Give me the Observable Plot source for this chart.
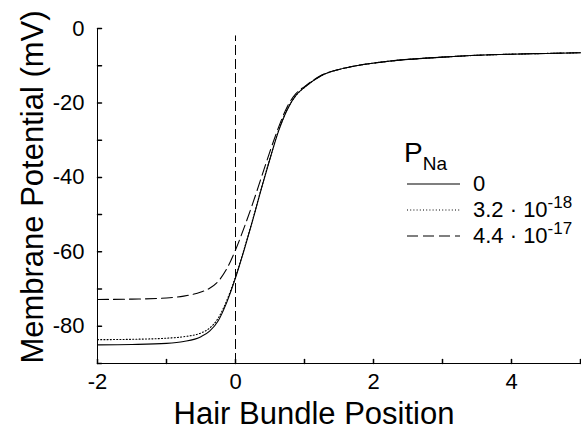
<!DOCTYPE html>
<html>
<head>
<meta charset="utf-8">
<script src="https://cdn.jsdelivr.net/npm/d3@7"></script>
<script src="https://cdn.jsdelivr.net/npm/@observablehq/plot@0.6"></script>
<style>
  html, body { margin: 0; padding: 0; background: #fff; }
  #wrap { position: relative; width: 581px; height: 431px; font-family: "Liberation Sans", Arial, sans-serif; }
  #legend { position: absolute; left: 390px; top: 136px; color: #000; font-size: 22px; }
  #legend .title { font-size: 28px; line-height: 34px; height: 34px; margin-bottom: 1px; margin-left: 14px; }
  #legend .title sub { font-size: 19px; vertical-align: -8px; line-height: 0; }
  #legend .row { display: flex; align-items: center; height: 26px; }
  #legend svg { width: 70px; height: 10px; flex-shrink: 0; }
  #legend sup { font-size: 17px; vertical-align: 9px; line-height: 0; }
</style>
</head>
<body>
<div id="wrap"></div>
<script>
// Hair bundle position (x) and membrane potential (mV) for three P_Na values
const positions = [-2,-1.5,-1,-0.75,-0.5,-0.375,-0.25,-0.125,0,0.125,0.25,0.375,0.5,0.625,0.75,0.875,1,1.25,1.5,1.75,2,2.5,3,3.5,4,4.5,5];
const vPNa0     = [-85.0,-84.9,-84.6,-84.1,-82.8,-81.3,-78.5,-73.5,-67.0,-59.5,-51.5,-43.0,-35.0,-27.5,-21.8,-18.0,-15.8,-12.6,-11.0,-10.0,-9.3,-8.3,-7.7,-7.2,-6.9,-6.7,-6.5];
const vPNa32e19 = [-83.6,-83.5,-83.2,-82.8,-81.8,-80.5,-77.8,-73.0,-66.7,-59.3,-51.3,-42.9,-34.9,-27.4,-21.7,-18.0,-15.8,-12.6,-11.0,-10.0,-9.3,-8.3,-7.7,-7.2,-6.9,-6.7,-6.5];
const vPNa44e18 = [-72.8,-72.7,-72.4,-71.9,-70.8,-69.8,-67.9,-64.5,-59.5,-53.5,-47.0,-40.0,-33.0,-26.5,-21.0,-17.5,-15.6,-12.5,-11.0,-10.0,-9.3,-8.3,-7.7,-7.2,-6.9,-6.7,-6.5];

const xTickLabels = [-2, 0, 2, 4];
const xTicksAll = [-2, -1, 0, 1, 2, 3, 4, 5];
const yTickLabels = [0, -20, -40, -60, -80];
const yTicksAll = [0, -10, -20, -30, -40, -50, -60, -70, -80, -90];
const xDomain = [-2, 5];
const yDomain = [-90, 0];
const refLine = {x: 0, yFrom: -90, yTo: -2};

const xTitle = "Hair Bundle Position";
const yTitle = "Membrane Potential (mV)";

const legendTitle = ["P", "Na"];
const legendItems = [
  {base: "0", exp: null, dash: null},
  {base: "3.2 · 10", exp: "-18", dash: "1,2.2"},
  {base: "4.4 · 10", exp: "-17", dash: "11,5"}
];

const series = [
  {name: "0", values: vPNa0, dash: null},
  {name: "3.2e-18", values: vPNa32e19, dash: "1,2.2"},
  {name: "4.4e-17", values: vPNa44e18, dash: "11,5"}
];

const tickShape = {draw(context, l) { context.moveTo(0, 0); context.lineTo(0, -l); }};

const lineMarks = series.map(s => Plot.line(positions.map((x, i) => ({x, y: s.values[i]})), {
  x: "x", y: "y", stroke: "#000", strokeWidth: 1.1, curve: "monotone-x",
  strokeDasharray: s.dash
}));

const chart = Plot.plot({
  width: 581,
  height: 431,
  marginLeft: 97,
  marginRight: 1,
  marginTop: 28,
  marginBottom: 68,
  style: {fontFamily: "'Liberation Sans', Arial, sans-serif", color: "#000", background: "#fff"},
  x: {domain: xDomain},
  y: {domain: yDomain},
  marks: [
    Plot.ruleX([refLine.x], {y1: refLine.yFrom, y2: refLine.yTo, stroke: "#000", strokeWidth: 1, strokeDasharray: "10,4"}),
    ...lineMarks,
    Plot.ruleY([yDomain[0]], {stroke: "#000", strokeWidth: 1}),
    Plot.ruleX([xDomain[0]], {stroke: "#000", strokeWidth: 1}),
    Plot.vector(xTicksAll, {x: d => d, y: yDomain[0], length: 4, rotate: 0, anchor: "start", shape: tickShape, stroke: "#000"}),
    Plot.vector(yTicksAll, {x: xDomain[0], y: d => d, length: 4, rotate: 90, anchor: "start", shape: tickShape, stroke: "#000"}),
    Plot.axisX(xTickLabels, {tickSize: 0, tickPadding: 10, fontSize: 22, label: null, tickFormat: d => String(d)}),
    Plot.axisY(yTickLabels, {tickSize: 0, tickPadding: 13, fontSize: 22, label: null, tickFormat: d => String(d)}),
    Plot.text([xTitle], {frameAnchor: "bottom", lineAnchor: "middle", textAnchor: "middle", dy: 51, dx: -25, fontSize: 31, fill: "#000"}),
    Plot.text([yTitle], {frameAnchor: "left", lineAnchor: "middle", textAnchor: "middle", rotate: -90, dx: -64, dy: -9, fontSize: 31, fill: "#000"})
  ]
});

const wrap = document.getElementById("wrap");
wrap.appendChild(chart);

const legend = document.createElement("div");
legend.id = "legend";
legend.innerHTML = `<div class="title">${legendTitle[0]}<sub>${legendTitle[1]}</sub></div>` +
  legendItems.map(it => `<div class="row"><svg viewBox="0 0 70 10"><line x1="17" x2="70" y1="5" y2="5" stroke="#000" stroke-width="1.1" ${it.dash ? `stroke-dasharray="${it.dash}"` : ""}/></svg><span style="margin-left:13px">${it.base}${it.exp ? `<sup>${it.exp}</sup>` : ""}</span></div>`).join("");
wrap.appendChild(legend);
</script>
</body>
</html>
